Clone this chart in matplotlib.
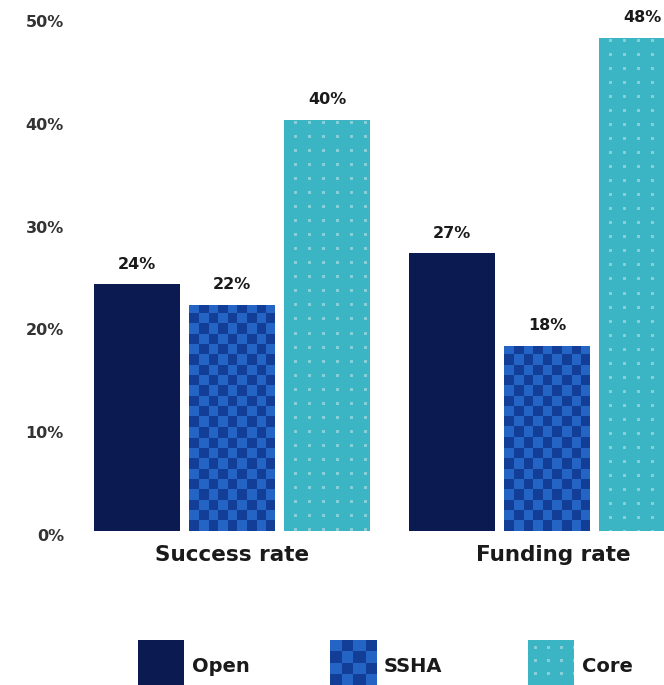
import numpy as np
import matplotlib
matplotlib.use("Agg")
import matplotlib.pyplot as plt
from matplotlib import transforms
from matplotlib.colors import to_rgb

# ---- data ----
categories = ["Success rate", "Funding rate"]
series_names = ["Open", "SSHA", "Core"]
open_vals = [24, 27]
ssha_vals = [22, 18]
core_vals = [40, 48]
y_ticks = [0, 10, 20, 30, 40, 50]
y_tick_labels = ["0%", "10%", "20%", "30%", "40%", "50%"]

NAVY = "#0b1b52"
BLUE_L = "#2464c4"
BLUE_D = "#123e98"
TEAL = "#3bb5c3"
DOT = "#86cfd8"
TXT = "#1a1a1a"

W, H = 664, 685
DPI = 100
fig = plt.figure(figsize=(W / DPI, H / DPI), dpi=DPI)
fig.patch.set_facecolor("white")

plt.rcParams["font.family"] = ["DejaVu Sans"]

ax_left_px, ax_bottom_px = 75, 531
ax = fig.add_axes([ax_left_px / W, 1 - ax_bottom_px / H, (W - ax_left_px) / W, ax_bottom_px / H])
px_per_unit = 315.0
origin_px = 232.0
xlim = ((ax_left_px - origin_px) / px_per_unit, (W - origin_px) / px_per_unit)
ylim = (0, ax_bottom_px / 10.28)

x = np.arange(len(categories))
step = 0.3016
width = 0.273
bars_open = ax.bar(x - step, open_vals, width, color=NAVY, zorder=2)
bars_ssha = ax.bar(x, ssha_vals, width, color=BLUE_L, zorder=2)
bars_core = ax.bar(x + step, core_vals, width, color=TEAL, zorder=2)
ax.set_xlim(*xlim)
ax.set_ylim(*ylim)


def checker(hpx, wpx, cw=9.6, ch=10.3):
    arr = np.zeros((hpx, wpx, 3))
    rows = (np.arange(hpx)[::-1] // ch).astype(int)
    cols = (np.arange(wpx) // cw).astype(int)
    mask = (rows[:, None] + cols[None, :]) % 2 == 0
    arr[:] = to_rgb(BLUE_L)
    arr[mask] = to_rgb(BLUE_D)
    return arr


def dots(hpx, wpx, sx=14, sy=14, ox=10, oy=2):
    arr = np.zeros((hpx, wpx, 3))
    arr[:] = to_rgb(TEAL)
    yy = np.arange(hpx)
    xx = np.arange(wpx)
    ry = ((yy - oy) % sy) < 3
    rx = ((xx - ox) % sx) < 3
    arr[ry[:, None] & rx[None, :]] = to_rgb(DOT)
    return arr


fig.canvas.draw()
for bars, fn in ((bars_ssha, checker), (bars_core, dots)):
    for b in bars:
        bb = b.get_window_extent()
        wpx = int(round(bb.width))
        hpx = int(round(bb.height))
        img = fn(hpx, wpx)
        l = b.get_x()
        r = l + b.get_width()
        im = ax.imshow(img, extent=(l, r, 0, b.get_height()), aspect="auto",
                       interpolation="nearest", zorder=3)
        im.set_clip_path(b)
ax.set_xlim(*xlim)
ax.set_ylim(*ylim)

# value labels
for bars, vals in ((bars_open, open_vals), (bars_ssha, ssha_vals), (bars_core, core_vals)):
    for b, v in zip(bars, vals):
        ax.annotate(f"{v}%", (b.get_x() + b.get_width() / 2, v), xytext=(0, 9),
                    textcoords="offset points", ha="center", va="bottom",
                    fontsize=11.5, fontweight="bold", color=TXT, zorder=5)

for s in ax.spines.values():
    s.set_visible(False)
ax.set_yticks(y_ticks)
ax.set_yticklabels(y_tick_labels, fontsize=11.5, fontweight="bold", color="#333333")
ax.tick_params(axis="y", length=0, pad=8)
off = transforms.ScaledTranslation(0, -4 / DPI, fig.dpi_scale_trans)
for lab in ax.get_yticklabels():
    lab.set_transform(lab.get_transform() + off)
ax.set_xticks([x[0], x[1] + 0.02])
ax.set_xticklabels(categories, fontsize=15.5, fontweight="bold", color=TXT)
ax.tick_params(axis="x", length=0, pad=10)

# legend (manual swatches)
legend_x = [138, 330, 528]
sw = 46
sw_top = 640
for lx, name, kind in zip(legend_x, series_names, ["solid", "checker", "dots"]):
    sax = fig.add_axes([lx / W, 1 - (sw_top + sw) / H, sw / W, sw / H])
    if kind == "solid":
        img = np.zeros((sw, sw, 3)); img[:] = to_rgb(NAVY)
    elif kind == "checker":
        img = checker(sw, sw, cw=11.5, ch=11.5)
    else:
        img = dots(sw, sw, sx=13, sy=13, ox=6, oy=6)
    sax.imshow(img, interpolation="nearest", aspect="auto")
    sax.set_axis_off()
    fig.text((lx + sw + 8) / W, 1 - 667 / H, name, fontsize=14, fontweight="bold",
             color=TXT, ha="left", va="center")

fig.savefig("out.png", dpi=DPI, facecolor="white")
